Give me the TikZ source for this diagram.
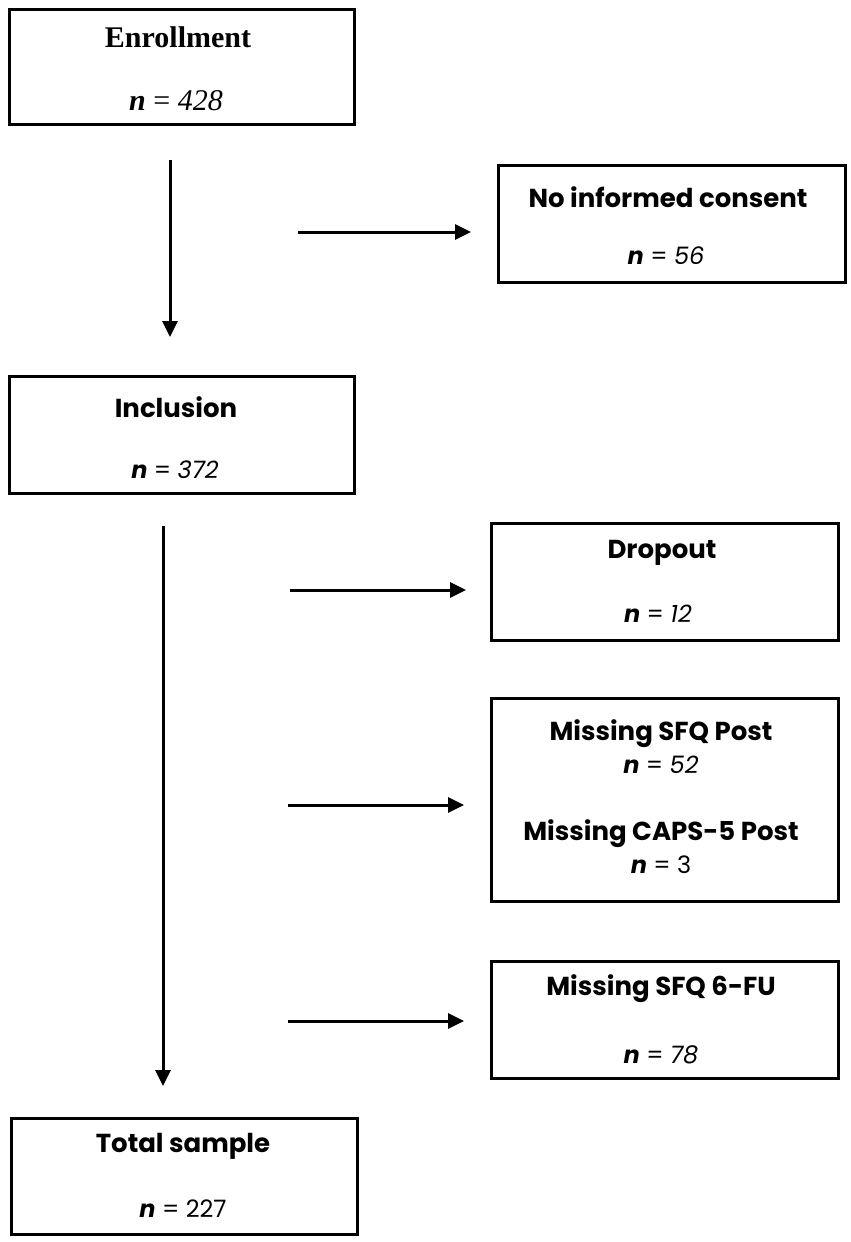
\documentclass[tikz,border=0pt]{standalone}
\usepackage{fontspec}
\setmainfont{Liberation Serif}
\newfontfamily\gothic{Poppins}
\usetikzlibrary{arrows.meta}
\begin{document}
\begin{tikzpicture}[x=1pt,y=-1pt,
  box/.style={draw=black,line width=3pt,inner sep=0pt,anchor=north west},
  ttl/.style={anchor=base,inner sep=0pt,font=\gothic\fontsize{26}{30}\selectfont\bfseries},
  num/.style={anchor=base,inner sep=0pt,font=\gothic\fontsize{24}{28}\selectfont},
  arr/.style={line width=3pt,-{Triangle[length=16pt,width=15pt]}}]
\useasboundingbox (0,0) rectangle (851,1242);
% boxes
\node[box,minimum width=345pt,minimum height=115pt] (enr) at (8,8) {};
\node[box,minimum width=347pt,minimum height=117pt] (nic) at (497,164) {};
\node[box,minimum width=345pt,minimum height=117pt] (inc) at (8,375) {};
\node[box,minimum width=347pt,minimum height=117pt] (drop) at (490,522) {};
\node[box,minimum width=347pt,minimum height=203pt] (miss) at (490,697) {};
\node[box,minimum width=347pt,minimum height=117pt] (fu) at (490,960) {};
\node[box,minimum width=346pt,minimum height=116pt] (tot) at (10,1117) {};
% texts
\node[anchor=base,inner sep=0pt,font=\fontsize{30}{34}\selectfont\bfseries] (enrT) at (178,47) {Enrollment};
\node[anchor=base,inner sep=0pt,font=\fontsize{30}{34}\selectfont] (enrN) at (176,110) {\textbf{\textit{n}} = \textit{428}};
\node[ttl] (nicT) at (668,207) {No informed consent};
\node[num] (nicN) at (666,264) {\textbf{\textit{n}} = \textit{56}};
\node[ttl] (incT) at (176,417) {Inclusion};
\node[num] (incN) at (175,478) {\textbf{\textit{n}} = \textit{372}};
\node[ttl] (dropT) at (662,558) {Dropout};
\node[num] (dropN) at (658,622) {\textbf{\textit{n}} = \textit{12}};
\node[ttl] (missT1) at (661,740) {Missing SFQ Post};
\node[num] (missN1) at (661,773) {\textbf{\textit{n}} = \textit{52}};
\node[ttl] (missT2) at (661,840) {Missing CAPS-5 Post};
\node[num] (missN2) at (661,873) {\textbf{\textit{n}} = 3};
\node[ttl] (fuT) at (661,995) {Missing SFQ 6-FU};
\node[num] (fuN) at (661,1063) {\textbf{\textit{n}} = \textit{78}};
\node[ttl] (totT) at (183,1152) {Total sample};
\node[num] (totN) at (183,1217) {\textbf{\textit{n}} = 227};
% arrows
\coordinate (a1s) at (170,160); \coordinate (a1e) at (170,337);
\coordinate (h1s) at (298,232); \coordinate (h1e) at (471,232);
\coordinate (a2s) at (163,526); \coordinate (a2e) at (163,1086);
\coordinate (h2s) at (290,590); \coordinate (h2e) at (466,590);
\coordinate (h3s) at (288,805); \coordinate (h3e) at (464,805);
\coordinate (h4s) at (288,1021); \coordinate (h4e) at (464,1021);
\draw[arr] (a1s) -- (a1e);
\draw[arr] (h1s) -- (h1e);
\draw[arr] (a2s) -- (a2e);
\draw[arr] (h2s) -- (h2e);
\draw[arr] (h3s) -- (h3e);
\draw[arr] (h4s) -- (h4e);
\end{tikzpicture}
\end{document}
